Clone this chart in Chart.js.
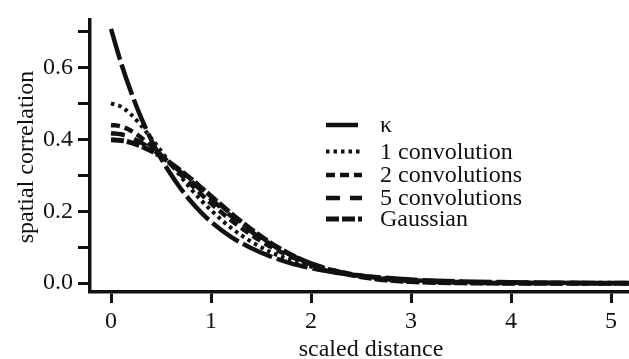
<!DOCTYPE html>
<html lang="en">
<head>
  <meta charset="UTF-8" />
  <title>Spatial correlation</title>
  <script src="https://cdn.jsdelivr.net/npm/chart.js"></script>
  <style>
    body { margin: 0; background: #fff; }
    #wrap { width: 629px; height: 359px; position: relative; }
  </style>
</head>
<body>
  <div id="wrap"><canvas id="chart"></canvas></div>

  <script>
    // scaled distance (x) and the five correlation curves
    const distance = [0, 0.1, 0.2, 0.3, 0.4, 0.5, 0.6, 0.7, 0.8, 0.9, 1.0, 1.2, 1.4, 1.6, 1.8, 2.0, 2.25, 2.5, 2.75, 3.0, 3.5, 4.0, 4.5, 5.0, 5.2];
    const kappa   = [0.707, 0.613, 0.532, 0.461, 0.400, 0.347, 0.302, 0.262, 0.227, 0.197, 0.171, 0.129, 0.098, 0.074, 0.055, 0.042, 0.029, 0.021, 0.015, 0.010, 0.005, 0.0025, 0.0012, 0.0006, 0.0005];
    const conv1   = [0.500, 0.491, 0.469, 0.439, 0.404, 0.368, 0.331, 0.296, 0.262, 0.231, 0.203, 0.154, 0.116, 0.086, 0.063, 0.046, 0.031, 0.020, 0.013, 0.0087, 0.0036, 0.0015, 0.0006, 0.0002, 0.0002];
    const conv2   = [0.440, 0.436, 0.424, 0.405, 0.382, 0.357, 0.330, 0.302, 0.275, 0.248, 0.222, 0.175, 0.135, 0.101, 0.074, 0.053, 0.034, 0.021, 0.013, 0.008, 0.003, 0.0011, 0.0004, 0.0001, 0.0001];
    const conv5   = [0.417, 0.414, 0.405, 0.391, 0.374, 0.354, 0.332, 0.308, 0.284, 0.259, 0.234, 0.187, 0.144, 0.108, 0.078, 0.055, 0.034, 0.020, 0.011, 0.006, 0.0017, 0.0004, 0.0001, 0, 0];
    const gauss   = [0.399, 0.397, 0.391, 0.381, 0.368, 0.352, 0.333, 0.312, 0.290, 0.266, 0.242, 0.194, 0.150, 0.111, 0.079, 0.054, 0.032, 0.018, 0.009, 0.0044, 0.0009, 0.0001, 0, 0, 0];

    const seriesNames = ['\u03ba', '1 convolution', '2 convolutions', '5 convolutions', 'Gaussian'];
    const xTicks = [0, 1, 2, 3, 4, 5];
    const yTicks = [0, 0.1, 0.2, 0.3, 0.4, 0.5, 0.6, 0.7];
    const yLabelled = [0, 0.2, 0.4, 0.6];

    const FONT = '"Liberation Serif", "Times New Roman", serif';
    const INK = '#111';

    const styles = [
      { dash: [32, 5], width: 4.5 },
      { dash: [3.5, 4], width: 4 },
      { dash: [9, 5], width: 4.5 },
      { dash: [14, 10], width: 4.5 },
      { dash: [13, 3], width: 5 }
    ];

    const values = [kappa, conv1, conv2, conv5, gauss];
    const datasets = values.map((vals, i) => ({
      label: seriesNames[i],
      data: distance.map((d, j) => ({ x: d, y: vals[j] })),
      borderColor: INK,
      borderWidth: styles[i].width,
      borderDash: styles[i].dash,
      borderCapStyle: 'butt',
      pointRadius: 0,
      fill: false,
      cubicInterpolationMode: 'monotone'
    }));

    // legend inside the plot + axis titles, drawn on the canvas
    const extras = {
      id: 'extras',
      afterDraw(chart) {
        const ctx = chart.ctx;
        ctx.save();
        ctx.fillStyle = INK;
        ctx.strokeStyle = INK;
        ctx.font = '24px ' + FONT;
        ctx.textBaseline = 'middle';
        ctx.textAlign = 'left';
        const x0 = 326, x1 = 362, tx = 380;
        const rows = [125, 151.5, 175, 198, 219];
        datasets.forEach((ds, i) => {
          const y = rows[i];
          ctx.lineWidth = ds.borderWidth;
          ctx.setLineDash(ds.borderDash);
          ctx.lineCap = 'butt';
          ctx.beginPath();
          ctx.moveTo(x0, y);
          ctx.lineTo(x1, y);
          ctx.stroke();
          ctx.fillText(ds.label, tx, y + 1);
        });
        ctx.setLineDash([]);

        ctx.textAlign = 'center';
        ctx.textBaseline = 'alphabetic';
        ctx.fillText('scaled distance', 371, 356);

        ctx.translate(33, 157);
        ctx.rotate(-Math.PI / 2);
        ctx.fillText('spatial correlation', 0, 0);
        ctx.restore();
      }
    };

    new Chart(document.getElementById('chart'), {
      type: 'line',
      data: { datasets },
      options: {
        responsive: true,
        maintainAspectRatio: false,
        animation: false,
        layout: { padding: { top: 14, right: 0, left: 0, bottom: 0 } },
        plugins: { legend: { display: false }, tooltip: { enabled: false } },
        scales: {
          x: {
            type: 'linear',
            min: -0.21,
            max: 5.18,
            afterBuildTicks: s => { s.ticks = xTicks.map(v => ({ value: v })); },
            afterFit: s => { s.height = 67; },
            grid: { drawOnChartArea: false, drawTicks: true, tickLength: 11, tickWidth: 3, tickColor: INK },
            border: { display: true, width: 3.5, color: INK },
            ticks: { color: INK, font: { family: FONT, size: 24 }, padding: 4, maxRotation: 0, callback: v => String(v) }
          },
          y: {
            type: 'linear',
            min: -0.0245,
            max: 0.7336,
            afterBuildTicks: s => { s.ticks = yTicks.map(v => ({ value: v })); },
            afterFit: s => { s.width = 90; },
            grid: { drawOnChartArea: false, drawTicks: true, tickLength: 12, tickWidth: 3, tickColor: INK },
            border: { display: true, width: 3.5, color: INK },
            ticks: {
              color: INK, font: { family: FONT, size: 24 }, padding: 5,
              callback: v => yLabelled.some(l => Math.abs(l - v) < 1e-6) ? v.toFixed(1) : ''
            }
          }
        }
      },
      plugins: [extras]
    });
  </script>
</body>
</html>
